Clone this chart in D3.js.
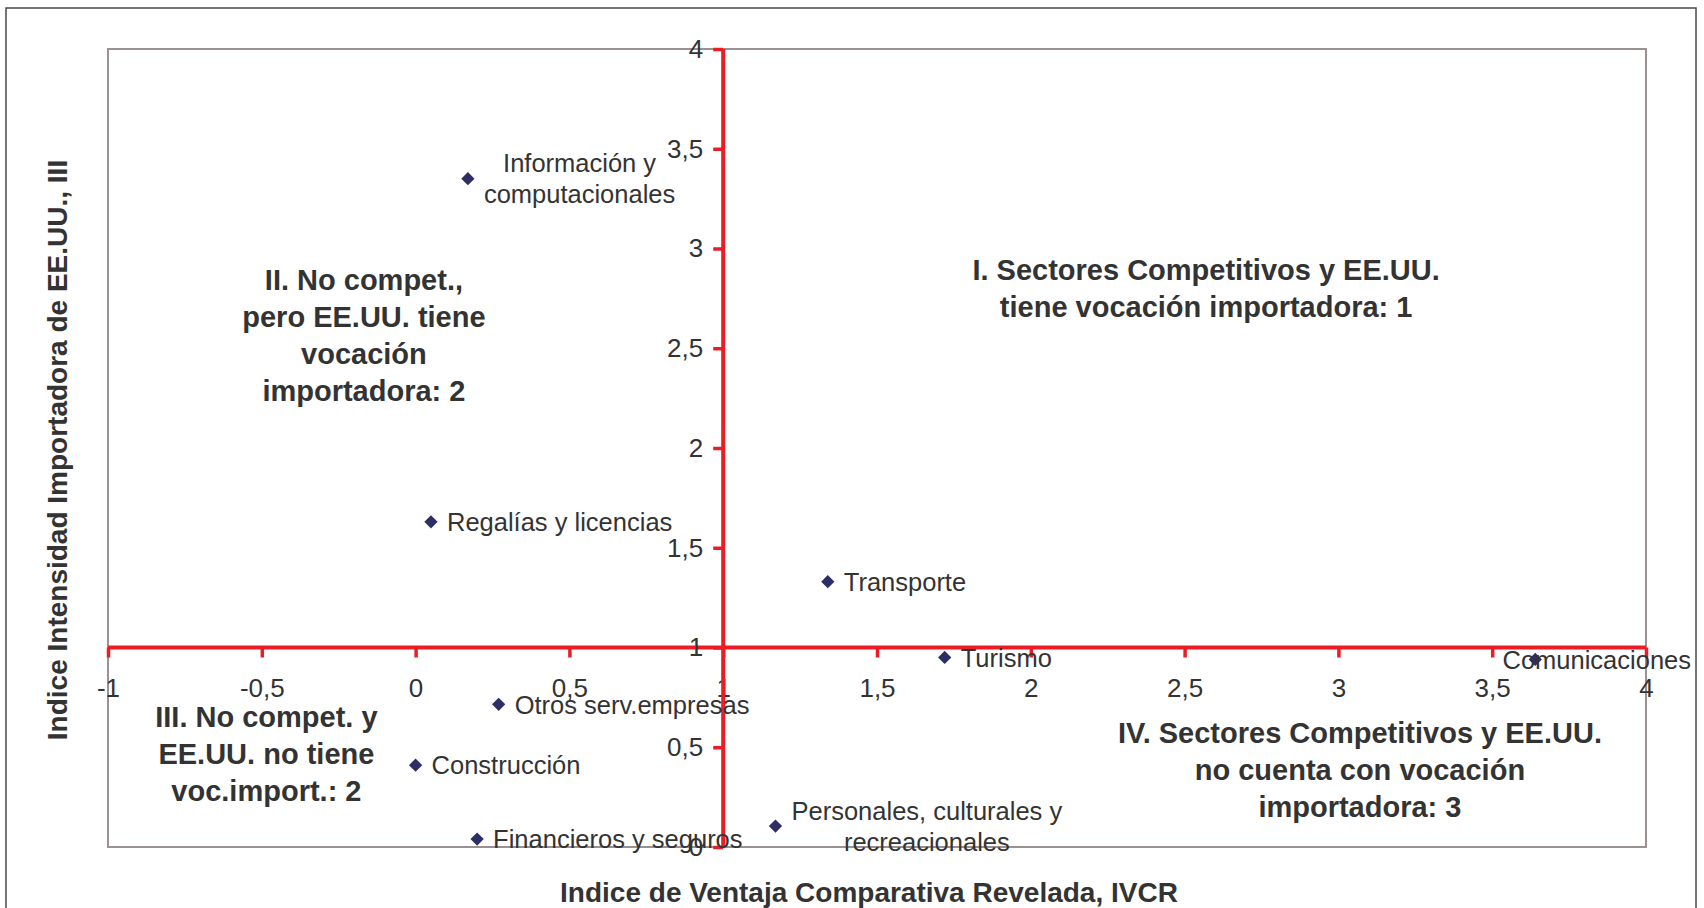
<!DOCTYPE html>
<html>
<head>
<meta charset="utf-8">
<script src="https://cdn.jsdelivr.net/npm/d3@7"></script>
<style>
  html, body { margin: 0; padding: 0; background: #fff; }
  svg { display: block; }
  text { font-family: "Liberation Sans", Arial, Helvetica, sans-serif; fill: #333333; }
</style>
</head>
<body>
<svg id="chart" width="1704" height="908"></svg>
<script>
// ---- Data ----
const sectors = [
  "Información y\ncomputacionales",
  "Regalías y licencias",
  "Otros serv.empresas",
  "Construcción",
  "Financieros y seguros",
  "Transporte",
  "Turismo",
  "Comunicaciones",
  "Personales, culturales y\nrecreacionales"
];
const ivcr = [0.17, 0.05, 0.27, 0.00, 0.20, 1.34, 1.72, 3.64, 1.17];
const iii  = [3.35, 1.63, 0.715, 0.41, 0.04, 1.33, 0.95, 0.94, 0.105];

const xTicks = [-1, -0.5, 0, 0.5, 1, 1.5, 2, 2.5, 3, 3.5, 4];
const yTicks = [0, 0.5, 1, 1.5, 2, 2.5, 3, 3.5, 4];

const quadrantTexts = [
  "I. Sectores Competitivos y EE.UU.\ntiene vocación importadora: 1",
  "II. No compet.,\npero EE.UU. tiene\nvocación\nimportadora: 2",
  "III. No compet. y\nEE.UU. no tiene\nvoc.import.: 2",
  "IV. Sectores Competitivos y EE.UU.\nno cuenta con vocación\nimportadora: 3"
];
const xTitle = "Indice de Ventaja Comparativa Revelada, IVCR";
const yTitle = "Indice Intensidad Importadora de EE.UU., III";

// ---- Layout ----
const W = 1704, H = 908;
const plot = { left: 108, right: 1646, top: 49, bottom: 847 };
const RED = "#ed1c24";
const fmt = v => String(v).replace(".", ",");

const svg = d3.select("#chart");

const x = d3.scaleLinear().domain([-1, 4]).range([plot.left, plot.right]);
const y = d3.scaleLinear().domain([0, 4]).range([plot.bottom, plot.top]);

// outer frame
svg.append("rect")
  .attr("x", 6).attr("y", 8).attr("width", 1690).attr("height", 930)
  .attr("fill", "none").attr("stroke", "#4a4a4a").attr("stroke-width", 1.5);

// plot area frame
svg.append("rect")
  .attr("x", plot.left).attr("y", plot.top)
  .attr("width", plot.right - plot.left).attr("height", plot.bottom - plot.top)
  .attr("fill", "none").attr("stroke", "#9c9090").attr("stroke-width", 2);

// x axis crossing at y = 1
const xAxis = svg.append("g")
  .attr("transform", `translate(0,${y(1)})`)
  .call(d3.axisBottom(x).tickValues(xTicks).tickFormat(fmt).tickSize(10).tickPadding(21));
// y axis crossing at x = 1
const yAxis = svg.append("g")
  .attr("transform", `translate(${x(1)},0)`)
  .call(d3.axisLeft(y).tickValues(yTicks).tickFormat(fmt).tickSize(10).tickPadding(10));

[xAxis, yAxis].forEach(g => {
  g.select(".domain").attr("stroke", RED).attr("stroke-width", 4);
  g.selectAll(".tick line").attr("stroke", RED).attr("stroke-width", 3.5);
  g.selectAll(".tick text")
    .attr("fill", "#333333")
    .style("font-family", '"Liberation Sans", Arial, sans-serif')
    .style("font-size", "26px");
});
xAxis.select(".domain").attr("d", `M${plot.left},0H${plot.right}`);
yAxis.select(".domain").attr("d", `M0,${plot.bottom}V${plot.top}`);

// quadrant labels
const quadAnchors = [[2.57, 2.80], [-0.168, 2.566], [-0.485, 0.466], [3.07, 0.39]];
const qLH = 37, qFS = 29;
quadrantTexts.forEach((t, i) => {
  const lines = t.split("\n");
  const cx = x(quadAnchors[i][0]), cy = y(quadAnchors[i][1]);
  const tx = svg.append("text")
    .attr("text-anchor", "middle")
    .style("font-size", qFS + "px").style("font-weight", "bold");
  lines.forEach((l, j) => {
    tx.append("tspan")
      .attr("x", cx)
      .attr("y", cy + (j - (lines.length - 1) / 2) * qLH + 0.36 * qFS)
      .text(l);
  });
});

// data points
const pts = sectors.map((s, i) => ({ name: s, x: ivcr[i], y: iii[i] }));
const sym = d3.symbol().type(d3.symbolSquare).size(88);
svg.append("g").selectAll("path").data(pts).join("path")
  .attr("d", sym)
  .attr("transform", d => `translate(${x(d.x)},${y(d.y)}) rotate(45)`)
  .attr("fill", "#2e2e66");

// data labels
const lFS = 25.5, lLH = 31;
pts.forEach(d => {
  const lines = d.name.split("\n");
  const px = x(d.x), py = y(d.y);
  const g = svg.append("text").style("font-size", lFS + "px");
  const spans = lines.map((l, j) => g.append("tspan")
    .attr("y", py + (j - (lines.length - 1) / 2) * lLH + 0.36 * lFS)
    .text(l));
  const widths = spans.map(s => s.node().getComputedTextLength());
  const wmax = d3.max(widths);
  let left = px + 16;
  if (left + wmax > W - 13) left = W - 13 - wmax;
  if (lines.length > 1) {
    g.attr("text-anchor", "middle");
    spans.forEach(s => s.attr("x", left + wmax / 2));
  } else {
    spans.forEach(s => s.attr("x", left));
  }
});

// axis titles
svg.append("text")
  .attr("x", (plot.left + plot.right) / 2 - 8).attr("y", 902)
  .attr("text-anchor", "middle")
  .style("font-size", "28px").style("font-weight", "bold")
  .text(xTitle);

svg.append("text")
  .attr("transform", `translate(67,${(plot.top + plot.bottom) / 2 + 2}) rotate(-90)`)
  .attr("text-anchor", "middle")
  .style("font-size", "28px").style("font-weight", "bold")
  .text(yTitle);
</script>
</body>
</html>
